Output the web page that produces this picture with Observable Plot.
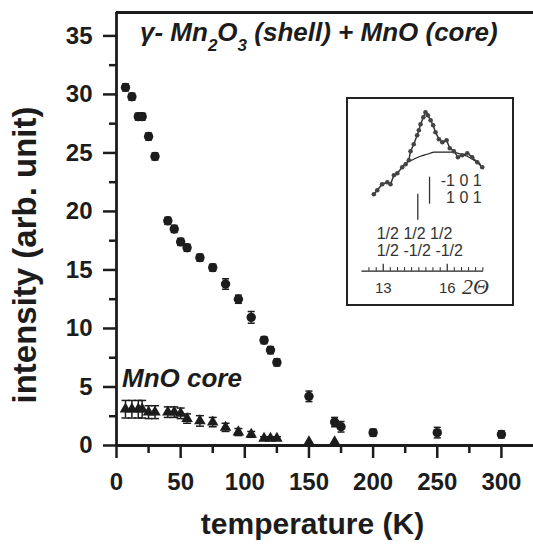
<!DOCTYPE html>
<html><head><meta charset="utf-8">
<script src="https://cdn.jsdelivr.net/npm/d3@7"></script>
<script src="https://cdn.jsdelivr.net/npm/@observablehq/plot@0.6"></script>
<style>
body{margin:0;background:#fff;}
#wrap{position:relative;width:533px;height:546px;overflow:hidden;font-family:"Liberation Sans",Arial,sans-serif;}
#box{position:absolute;left:346px;top:97px;width:168px;height:209px;border:2px solid #222;box-sizing:border-box;}
#insetHolder{position:absolute;left:347px;top:98px;}
#overlay{position:absolute;left:0;top:0;pointer-events:none;}
</style></head><body><div id="wrap"><div id="main"></div><div id="box"></div><div id="insetHolder"></div></div>
<script>
// ---- main chart data ----
const shellT = [7,12,17,20,25,30,40,45,50,55,65,75,85,95,105,115,120,125,150,170,175,200,250,300];
const shellI = [30.6,29.8,28.1,28.1,26.4,24.7,19.2,18.5,17.4,16.9,16.05,15.2,13.8,12.5,10.95,9.0,8.15,7.1,4.2,2.0,1.6,1.1,1.1,0.95];
const shellErr = [0.3,0.3,0.3,0.3,0.3,0.3,0.3,0.3,0.3,0.3,0.3,0.3,0.45,0.35,0.5,0.3,0.3,0.3,0.45,0.4,0.45,0.3,0.45,0.3];
const coreT = [7,12,17,20,25,30,40,45,50,55,65,75,85,95,105,115,120,125,150,170];
const coreI = [3.1,3.1,3.1,3.1,2.85,2.85,2.85,2.85,2.75,2.3,2.1,2.0,1.55,1.15,0.95,0.6,0.6,0.6,0.3,0.3];
const coreErr = [0.75,0.75,0.75,0.75,0.55,0.55,0.45,0.45,0.45,0.4,0.45,0.4,0.35,0.3,0.25,0.15,0.15,0.15,0,0];
const xMajor = [0,50,100,150,200,250,300];
const xMinor = [25,75,125,175,225,275];
const yMajor = [0,5,10,15,20,25,30,35];
const yMinor = [2.5,7.5,12.5,17.5,22.5,27.5,32.5];
const xDomain = [0,325];
const yDomain = [0,37];

// ---- inset data (2θ scan) ----
const insetTheta = [12.56,12.72,12.95,13.19,13.34,13.50,13.66,13.89,14.05,14.20,14.28,14.43,14.59,14.67,14.75,14.88,14.98,15.09,15.22,15.34,15.45,15.61,15.77,15.97,16.12,16.31,16.50,16.70,16.94,17.17,17.41,17.64];
const insetCounts = [77,81,87,89,87,96,98,104,107,111,120,127,136,141,147,154,159,156,151,146,139,132,129,131,123,120,114,116,118,114,109,104];
const bgTheta = [13.89,14.12,14.43,14.75,15.06,15.37,15.69,16.0,16.31,16.62,16.94,17.25,17.56];
const bgCounts = [104,109,112,115,117,119,119,119,119,117,115,111,107];
const reflTheta = [14.62,15.17];
const reflLow = [51,67];
const reflHigh = [77,94];
const insetMajor = [13,16];
const insetMinor = [12.33,12.67,13.33,13.67,14,14.33,14.67,15,15.33,15.67,16.33,16.67,17,17.33,17.67];
const insetXDomain = [12,17.7];
const insetYDomain = [0,167.7];

const ink = "#1c1c1c";
const shell = shellT.map((t,i)=>({T:t, v:shellI[i], e:shellErr[i]}));
const core = coreT.map((t,i)=>({T:t, v:coreI[i], e:coreErr[i]}));
const capSymbol = {draw(ctx, size){ const r = Math.sqrt(size/Math.PI); ctx.moveTo(-r,0); ctx.lineTo(r,0); }};

const main = Plot.plot({
  width:533, height:546, marginLeft:116, marginRight:0, marginTop:12, marginBottom:101,
  x:{domain:xDomain}, y:{domain:yDomain},
  style:{fontFamily:"Liberation Sans", color:ink, background:"white", overflow:"visible"},
  marks:[
    Plot.axisX({ticks:xMajor, tickSize:13, tickPadding:14, strokeWidth:2.5, fontSize:24, fontWeight:"bold", label:null, fill:ink}),
    Plot.axisX({ticks:xMinor, tickSize:8, strokeWidth:2.5, tickFormat:()=>"", label:null}),
    Plot.axisY({ticks:yMajor, tickSize:13, tickPadding:11, strokeWidth:2.5, fontSize:24, fontWeight:"bold", label:null, fill:ink}),
    Plot.axisY({ticks:yMinor, tickSize:7, strokeWidth:2.5, tickFormat:()=>"", label:null}),
    Plot.ruleX(shell, {x:"T", y1:d=>d.v-d.e, y2:d=>d.v+d.e, stroke:ink, strokeWidth:1.5}),
    Plot.dot(shell, {x:"T", y:d=>d.v-d.e, symbol:capSymbol, r:3.5, stroke:ink, fill:"none", strokeWidth:1.5}),
    Plot.dot(shell, {x:"T", y:d=>d.v+d.e, symbol:capSymbol, r:3.5, stroke:ink, fill:"none", strokeWidth:1.5}),
    Plot.ruleX(core.filter(d=>d.e>0), {x:"T", y1:d=>d.v-d.e, y2:d=>d.v+d.e, stroke:ink, strokeWidth:1.5}),
    Plot.dot(core.filter(d=>d.e>0), {x:"T", y:d=>d.v-d.e, symbol:capSymbol, r:4, stroke:ink, fill:"none", strokeWidth:1.5}),
    Plot.dot(core.filter(d=>d.e>0), {x:"T", y:d=>d.v+d.e, symbol:capSymbol, r:4, stroke:ink, fill:"none", strokeWidth:1.5}),
    Plot.dot(shell, {x:"T", y:"v", r:4.7, fill:ink}),
    Plot.dot(core, {x:"T", y:"v", symbol:"triangle", r:4.3, fill:ink}),
    Plot.ruleX([0], {stroke:ink, strokeWidth:2.8}),
    Plot.ruleY([0], {stroke:ink, strokeWidth:2.8}),
    Plot.ruleY([yDomain[1]], {stroke:ink, strokeWidth:2.8})
  ]
});
document.getElementById("main").appendChild(main);

const meas = insetTheta.map((t,i)=>({t, c:insetCounts[i]}));
const bg = bgTheta.map((t,i)=>({t, c:bgCounts[i]}));
const refl = reflTheta.map((t,i)=>({t, lo:reflLow[i], hi:reflHigh[i]}));
const frameH = 206-5-33.3;
const inset = Plot.plot({
  width:165, height:206, marginLeft:14.4, marginRight:29, marginTop:5, marginBottom:33.3,
  x:{domain:insetXDomain}, y:{domain:insetYDomain, axis:null},
  style:{fontFamily:"Liberation Sans", color:"#333", background:"transparent", overflow:"visible"},
  marks:[
    Plot.line(bg, {x:"t", y:"c", curve:"catmull-rom", stroke:"#222", strokeWidth:1.2}),
    Plot.line(meas, {x:"t", y:"c", stroke:"#333", strokeWidth:1.5}),
    Plot.dot(meas, {x:"t", y:"c", r:2.3, fill:"#444"}),
    Plot.ruleX(refl, {x:"t", y1:"lo", y2:"hi", stroke:"#333", strokeWidth:1.3}),
    Plot.ruleY([0], {stroke:"#222", strokeWidth:1.3}),
    Plot.tickX(insetMinor, {x:d=>d, insetTop:frameH-3.5, stroke:"#222", strokeWidth:1}),
    Plot.tickX(insetMajor, {x:d=>d, insetTop:frameH-7, stroke:"#222", strokeWidth:1.2}),
    Plot.axisX({ticks:insetMajor, tickFormat:d3.format("d"), tickSize:0, tickPadding:11, fontSize:15, label:null, fill:"#333"})
  ]
});
document.getElementById("insetHolder").appendChild(inset);

// ---- text overlay ----
const svg = d3.select("#wrap").append("svg").attr("id","overlay").attr("width",533).attr("height",546)
  .style("font-family","'Liberation Sans', Arial, sans-serif").attr("fill",ink);
const title = svg.append("text").attr("x",140).attr("y",41).attr("font-size",26).attr("font-weight","bold").attr("font-style","italic");
title.append("tspan").text("γ- Mn");
title.append("tspan").attr("font-size",17).attr("dy",10).text("2");
title.append("tspan").attr("dy",-10).text("O");
title.append("tspan").attr("font-size",17).attr("dy",10).text("3");
title.append("tspan").attr("dy",-10).text(" (shell) + MnO (core)");
svg.append("text").attr("x",122).attr("y",387).attr("font-size",26).attr("font-weight","bold").attr("font-style","italic").text("MnO core");
svg.append("text").attr("transform","translate(36,255) rotate(-90)").attr("text-anchor","middle").attr("font-size",33).attr("font-weight","bold").text("intensity (arb. unit)");
svg.append("text").attr("x",312.5).attr("y",533.5).attr("text-anchor","middle").attr("font-size",30).attr("font-weight","bold").text("temperature (K)");
const hkl = svg.append("g").attr("font-size",16).attr("fill","#333");
hkl.append("text").attr("x",481.7).attr("y",186.2).attr("text-anchor","end").text("-1 0 1");
hkl.append("text").attr("x",481.7).attr("y",203.2).attr("text-anchor","end").text("1 0 1");
hkl.append("text").attr("x",376.7).attr("y",238.5).text("1/2 1/2 1/2");
hkl.append("text").attr("x",376.7).attr("y",256.2).text("1/2 -1/2 -1/2");
svg.append("text").attr("x",462).attr("y",293.5).attr("font-family","'Liberation Serif', serif").attr("font-style","italic").attr("font-size",22).attr("fill","#333").text("2Θ");
</script></body></html>
